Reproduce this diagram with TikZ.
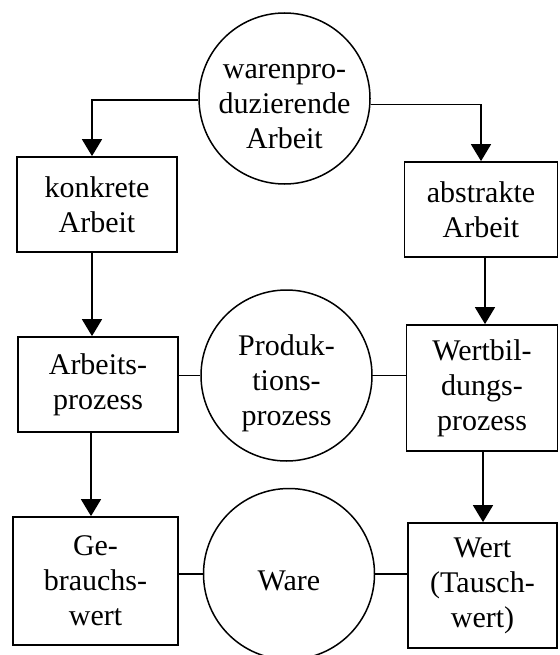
\documentclass[tikz,border=0pt]{standalone}
\usepackage{fontspec}
\setmainfont{Liberation Serif}
\usetikzlibrary{arrows.meta}
\tikzset{
  txt/.style={inner sep=0pt, align=center, font=\fontsize{30}{35}\selectfont},
  box/.style={txt, draw, line width=1.8pt},
  ring/.style={draw, circle, line width=1.5pt, inner sep=0pt, minimum size=171pt},
  arr/.style={line width=1.8pt, -{Triangle[width=20pt,length=17pt]}},
  link/.style={line width=1.8pt}
}
\begin{document}
\begin{tikzpicture}[x=1pt,y=-1pt]
\useasboundingbox (0,0) rectangle (559,655);
% circles
\node[ring] (wa) at (284.5,98.5) {};
\node[txt] (wat) at (284.5,107) {warenpro-\\duzierende\\Arbeit};
\node[ring] (pp) at (286.5,375.5) {};
\node[txt] (ppt) at (286.5,383) {Produk-\\tions-\\prozess};
\node[ring] (wr) at (289,574) {};
\node[txt] (wrt) at (289,581) {Ware};
% left boxes
\node[box, minimum width=160pt, minimum height=95pt] (k) at (97,204.5) {konkrete\\Arbeit};
\node[box, minimum width=160pt, minimum height=95pt] (ap) at (98,384.5) {Arbeits-\\prozess};
\node[box, minimum width=165pt, minimum height=128pt] (gw) at (95.5,581) {Ge-\\brauchs-\\wert};
% right boxes
\node[box, minimum width=153pt, minimum height=95pt] (ab) at (481,209.5) {abstrakte\\Arbeit};
\node[box, minimum width=151pt, minimum height=126pt] (wb) at (482,388) {Wertbil-\\dungs-\\prozess};
\node[box, minimum width=149pt, minimum height=125pt] (w) at (482.5,585.5) {Wert\\(Tausch-\\wert)};
% helper columns
\coordinate (lx) at (92,0);
\coordinate (lx2) at (91,0);
\coordinate (rx) at (485,0);
\coordinate (rx2) at (483,0);
% arrows
\draw[arr] (wa.181) -| (k.north -| lx);
\draw[arr] (wa.-4) -| (ab.north);
\draw[arr] (k.south -| lx) -- (ap.north -| lx);
\draw[arr] (ap.south -| lx2) -- (gw.north -| lx2);
\draw[arr] (ab.south -| rx) -- (wb.north -| rx);
\draw[arr] (wb.south -| rx2) -- (w.north -| rx2);
% plain links
\draw[link] (ap.east |- pp.west) -- (pp.west);
\draw[link] (pp.east) -- (pp.east -| wb.west);
\draw[link] (gw.east |- wr.west) -- (wr.west);
\draw[link] (wr.east) -- (wr.east -| w.west);
\end{tikzpicture}
\end{document}
